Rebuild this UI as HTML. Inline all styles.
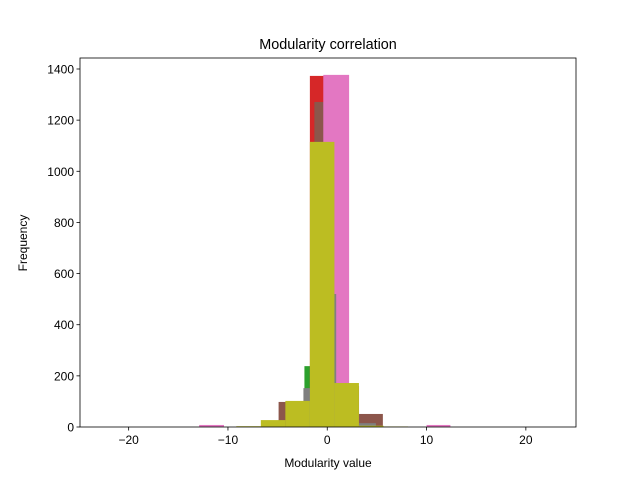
<!DOCTYPE html>
<html><head><meta charset="utf-8"><style>
html,body{margin:0;padding:0;background:#fff;}
svg{display:block;font-family:"Liberation Sans","DejaVu Sans",sans-serif;}
</style></head><body>
<svg id="chart" width="640" height="480" viewBox="0 0 640 480" xmlns="http://www.w3.org/2000/svg">
<rect width="640" height="480" fill="#fff"/>
<text x="328" y="49" text-anchor="middle" font-size="14.4">Modularity correlation</text>
<g id="bars"></g>
<g id="axes"></g>
<text x="328" y="467" text-anchor="middle" font-size="12">Modularity value</text>
<text x="27" y="243" text-anchor="middle" font-size="12" transform="rotate(-90 27 243)">Frequency</text>
</svg>
<script>
const greenEdges=[-2.3,-1.7,0.5];
const greenCounts=[238,900];
const redEdges=[-1.75,0.9];
const redCounts=[1373];
const brownEdges=[-4.9,-1.3,1.0,3.2,5.6];
const brownCounts=[98,1271,160,51];
const pinkEdges=[-12.9,-10.4,-0.4,2.2,10,12.4];
const pinkCounts=[8,0,1377,0,8];
const grayEdges=[-2.4,-1.7,0.7,0.9,3.2,4.9];
const grayCounts=[152,1000,520,0,15];
const oliveEdges=[-9.16,-6.69,-4.22,-1.75,0.72,3.19,5.66,8.13];
const oliveCounts=[3,27,102,1115,172,5,2];
const xTicks=[-20,-10,0,10,20];
const yTicks=[0,200,400,600,800,1000,1200,1400];

const L=80,R=576,T=58,B=427;
const xMin=-24.9,xMax=25.05,yMax=1443;
const sx=v=>L+(v-xMin)/(xMax-xMin)*(R-L);
const sy=v=>B-v/yMax*(B-T);
const NS="http://www.w3.org/2000/svg";
const bars=document.getElementById('bars');
const axes=document.getElementById('axes');
const series=[["green","#2ca02c",greenEdges,greenCounts],["red","#d62728",redEdges,redCounts],["brown","#8c564b",brownEdges,brownCounts],["pink","#e377c2",pinkEdges,pinkCounts],["gray","#7f7f7f",grayEdges,grayCounts],["olive","#bcbd22",oliveEdges,oliveCounts]];
series.forEach(([nm,col,e,c])=>{
  c.forEach((v,i)=>{
    if(v<=0)return;
    const r=document.createElementNS(NS,'rect');
    
    
    const x0=sx(e[i]),x1=sx(e[i+1]);
    r.setAttribute('x',x0);r.setAttribute('width',x1-x0);
    r.setAttribute('y',sy(v));r.setAttribute('height',B-sy(v));
    r.setAttribute('fill',col);
    bars.appendChild(r);
  });
});
const frame=document.createElementNS(NS,'rect');


frame.setAttribute('x',L);frame.setAttribute('y',T);frame.setAttribute('width',R-L);frame.setAttribute('height',B-T);
frame.setAttribute('fill','none');frame.setAttribute('stroke','#000');frame.setAttribute('stroke-width','0.8');
axes.appendChild(frame);
xTicks.forEach(t=>{
  const x=sx(t);
  const l=document.createElementNS(NS,'line');
  
  
  l.setAttribute('x1',x);l.setAttribute('x2',x);l.setAttribute('y1',B);l.setAttribute('y2',B+3.5);l.setAttribute('stroke','#000');l.setAttribute('stroke-width','0.8');
  axes.appendChild(l);
  const tx=document.createElementNS(NS,'text');
  
  
  tx.setAttribute('x',x);tx.setAttribute('y',B+17);tx.setAttribute('text-anchor','middle');tx.setAttribute('font-size','12');
  tx.textContent=t<0?'\u2212'+Math.abs(t):String(t);
  axes.appendChild(tx);
});
yTicks.forEach(t=>{
  const y=sy(t);
  const l=document.createElementNS(NS,'line');
  
  
  l.setAttribute('x1',L-3.5);l.setAttribute('x2',L);l.setAttribute('y1',y);l.setAttribute('y2',y);l.setAttribute('stroke','#000');l.setAttribute('stroke-width','0.8');
  axes.appendChild(l);
  const tx=document.createElementNS(NS,'text');
  
  
  tx.setAttribute('x',L-6);tx.setAttribute('y',y+4.5);tx.setAttribute('text-anchor','end');tx.setAttribute('font-size','12');
  tx.textContent=String(t);
  axes.appendChild(tx);
});
</script>
</body></html>
